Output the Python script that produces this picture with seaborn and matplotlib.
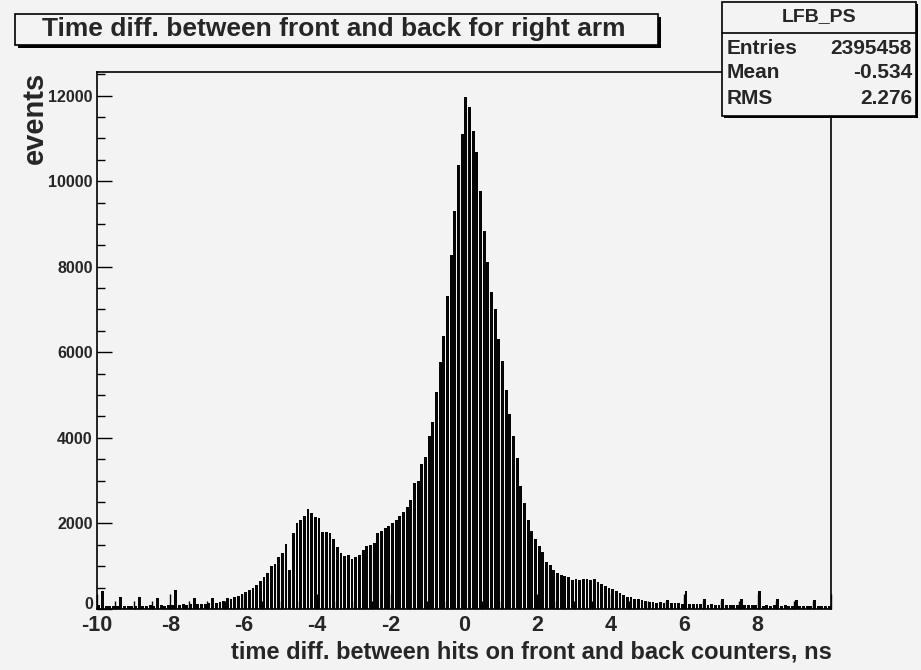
import numpy as np
import pandas as pd
import seaborn as sns
import matplotlib
matplotlib.use("Agg")
import matplotlib.pyplot as plt
from matplotlib.patches import Rectangle
from matplotlib.lines import Line2D
from matplotlib.ticker import MultipleLocator
from matplotlib.transforms import ScaledTranslation

# ---- histogram definition ----
bin_lo, bin_hi, n_bins = -10.0, 10.0, 200

# counts per 0.1 ns bin, in thousands of events
counts_left_tail = [0.09, 0.41, 0.08, 0.07, 0.08, 0.07, 0.28, 0.08, 0.07, 0.08,
                    0.07, 0.27, 0.08, 0.07, 0.09, 0.08, 0.25, 0.09, 0.08, 0.09,
                    0.10, 0.44, 0.10, 0.11, 0.10, 0.11, 0.25, 0.11, 0.12, 0.12,
                    0.13, 0.25, 0.15]
counts_rise = [0.17, 0.19, 0.25, 0.24, 0.27, 0.31, 0.35, 0.39, 0.44, 0.50,
               0.55, 0.66, 0.74, 0.85, 1.00, 1.06, 1.22, 1.30, 1.52, 0.91]
counts_bump_and_peak = [1.78, 2.02, 2.09, 2.18, 2.33, 2.25, 2.16, 2.13, 1.79, 1.79,
                        1.78, 1.63, 1.46, 1.31, 1.24, 1.26, 1.18, 1.21, 1.26, 1.38,
                        1.47, 1.50, 1.55, 1.78, 1.82, 1.90, 1.94, 2.02, 2.08, 2.17,
                        2.27, 2.38, 2.54, 2.94, 3.00, 3.39, 3.56, 4.05, 4.37, 5.06,
                        5.77, 6.38, 7.32, 8.27, 9.29, 10.37, 11.10, 11.96, 11.73]
counts_fall = [11.18, 10.69, 9.76, 8.83, 8.11, 7.41, 7.00, 6.32, 5.80, 5.11,
               4.55, 4.05, 3.54, 2.88, 2.48, 2.09, 1.83, 1.63, 1.47, 1.34,
               1.10, 1.03, 0.91, 0.83, 0.79, 0.77, 0.75, 0.68, 0.69, 0.68,
               0.71, 0.71, 0.68, 0.69, 0.64, 0.58, 0.54, 0.50, 0.46, 0.43,
               0.37, 0.33, 0.29, 0.29, 0.24, 0.23, 0.21, 0.19, 0.17]
counts_right_tail = [0.16, 0.15, 0.16, 0.14, 0.22, 0.14, 0.13, 0.13, 0.12, 0.43,
                     0.12, 0.11, 0.12, 0.11, 0.24, 0.10, 0.11, 0.10, 0.10, 0.23,
                     0.10, 0.09, 0.10, 0.09, 0.23, 0.09, 0.09, 0.10, 0.09, 0.43,
                     0.08, 0.09, 0.08, 0.09, 0.23, 0.08, 0.09, 0.08, 0.08, 0.22,
                     0.08, 0.07, 0.08, 0.08, 0.21, 0.07, 0.08, 0.07, 0.08]

x_tick_values = [-10, -8, -6, -4, -2, 0, 2, 4, 6, 8, 10]
x_tick_labels = ["-10", "-8", "-6", "-4", "-2", "0", "2", "4", "6", "8", ""]
y_tick_values = [0, 2000, 4000, 6000, 8000, 10000, 12000]
y_tick_labels = ["0", "2000", "4000", "6000", "8000", "10000", "12000"]

title_text = "Time diff. between front and back for right arm"
x_label = "time diff. between hits on front and back counters, ns"
y_label = "events"
stats_name = "LFB_PS"
stats_rows = [("Entries", "2395458"), ("Mean", "-0.534"), ("RMS", "2.276")]

# ---- assemble data ----
counts_k = counts_left_tail + counts_rise + counts_bump_and_peak + counts_fall + counts_right_tail
bin_width = (bin_hi - bin_lo) / n_bins
centers = bin_lo + bin_width * (np.arange(n_bins) + 0.5)
df = pd.DataFrame({"dt": centers, "events": np.array(counts_k) * 1000.0})

# ---- style ----
sns.set_style("ticks")
plt.rcParams["font.family"] = ["Liberation Sans", "DejaVu Sans"]
plt.rcParams["font.weight"] = "bold"
BG = "#f3f3f3"

W, H = 921, 670
fig = plt.figure(figsize=(W / 100, H / 100), dpi=100, facecolor=BG)

def fx(px):
    return px / W

def fy(py):
    return 1 - py / H

ax = fig.add_axes([fx(97), fy(609), fx(831) - fx(97), fy(72) - fy(609)])
ax.set_facecolor(BG)

sns.histplot(data=df, x="dt", weights="events", bins=n_bins, binrange=(bin_lo, bin_hi),
             shrink=0.78, color="#050505", edgecolor="none", linewidth=0, alpha=1.0,
             ax=ax)

ax.set_xlim(bin_lo, bin_hi)
ax.set_ylim(0, 12550)
ax.set_xticks(x_tick_values, labels=x_tick_labels)
ax.set_yticks(y_tick_values, labels=y_tick_labels)
ax.xaxis.set_minor_locator(MultipleLocator(0.5))
ax.yaxis.set_minor_locator(MultipleLocator(500))
ax.tick_params(axis="both", which="major", direction="in", length=11, width=1.0,
               color="black", top=False, right=False)
ax.tick_params(axis="both", which="minor", direction="in", length=5.5, width=1.0,
               color="black", top=False, right=False)
ax.tick_params(axis="x", which="major", labelsize=15.5, pad=4)
ax.tick_params(axis="y", which="major", labelsize=11.5, pad=3)
for lab in ax.get_xticklabels() + ax.get_yticklabels():
    lab.set_fontweight("bold")
# lift the y "0" label a little so it does not touch the "-10" below it
zero_lab = ax.get_yticklabels()[0]
zero_lab.set_transform(zero_lab.get_transform() +
                       ScaledTranslation(0, 4 / 72, fig.dpi_scale_trans))
for sp in ax.spines.values():
    sp.set_visible(True)
    sp.set_color("black")
    sp.set_linewidth(1.2)
ax.set_xlabel("")
ax.set_ylabel("")

# axis titles (ROOT style: aligned to axis ends)
fig.text(fx(832), fy(652), x_label, ha="right", va="center", fontsize=17, fontweight="bold")
fig.text(fx(35), fy(72), y_label, ha="center", va="top", rotation=90, fontsize=21,
         fontweight="bold")

# title pave with shadow
def pave(x0, y0, x1, y1, shadow=3):
    fig.patches.append(Rectangle((fx(x0 + shadow), fy(y1 + shadow)), fx(x1) - fx(x0),
                                 fy(y0) - fy(y1), transform=fig.transFigure,
                                 facecolor="black", edgecolor="none", zorder=5))
    fig.patches.append(Rectangle((fx(x0), fy(y1)), fx(x1) - fx(x0), fy(y0) - fy(y1),
                                 transform=fig.transFigure, facecolor=BG,
                                 edgecolor="black", linewidth=1.2, zorder=6))

pave(15, 14, 658, 45)
fig.text(fx(334), fy(29), title_text, ha="center", va="center", fontsize=19,
         fontweight="bold", zorder=7)

# stats pave
pave(722, 2, 916, 116, shadow=2)
fig.lines.append(Line2D([fx(722), fx(916)], [fy(33), fy(33)], transform=fig.transFigure,
                        color="black", linewidth=1.2, zorder=7))
fig.text(fx(819), fy(17), stats_name, ha="center", va="center", fontsize=14,
         fontweight="bold", zorder=7)
for k, (name, val) in enumerate(stats_rows):
    yy = 48 + 25 * k
    fig.text(fx(727), fy(yy), name, ha="left", va="center", fontsize=15,
             fontweight="bold", zorder=7)
    fig.text(fx(912), fy(yy), val, ha="right", va="center", fontsize=15,
             fontweight="bold", zorder=7)

fig.savefig("out.png", dpi=100, facecolor=BG)
